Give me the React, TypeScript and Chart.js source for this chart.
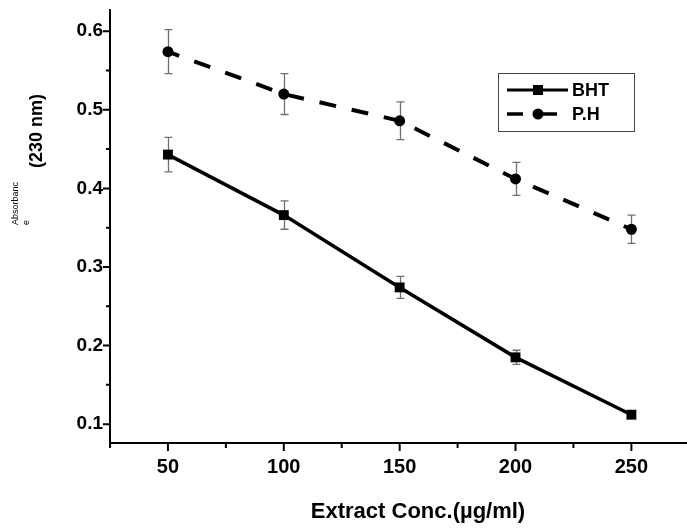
import React, { useEffect, useRef } from 'react';
import { Chart, registerables } from 'chart.js';

Chart.register(...registerables);

// ---- data ----
const concentrations = [50, 100, 150, 200, 250];
const bhtValues = [0.443, 0.366, 0.274, 0.185, 0.112];
const bhtErrors = [0.022, 0.018, 0.014, 0.009, 0.003];
const phValues = [0.574, 0.52, 0.486, 0.412, 0.348];
const phErrors = [0.028, 0.026, 0.024, 0.021, 0.018];
const seriesNames = ['BHT', 'P.H'];

const yMajorTicks = [0.1, 0.2, 0.3, 0.4, 0.5, 0.6];
const yTickLabels = ['0.1', '0.2', '0.3', '0.4', '0.5', '0.6'];
const yMinorTicks = [0.15, 0.25, 0.35, 0.45, 0.55];
const xMajorTicks = [50, 100, 150, 200, 250];
const xTickLabels = ['50', '100', '150', '200', '250'];
const xMinorTicks = [25, 75, 125, 175, 225];

const xTitle = 'Extract Conc.(µg/ml)';
const yTitleSmall = 'Absorbanc';
const yTitleSmall2 = 'e';
const yTitleMain = '(230 nm)';

const FONT = '"Liberation Sans", Arial, sans-serif';

const decorPlugin = {
  id: 'decor',
  beforeDatasetsDraw(chart: any) {
    const ctx = chart.ctx;
    const xs = chart.scales.x;
    const ys = chart.scales.y;
    ctx.save();
    ctx.strokeStyle = '#707070';
    ctx.lineWidth = 1.3;
    const groups = [
      { v: bhtValues, e: bhtErrors },
      { v: phValues, e: phErrors },
    ];
    groups.forEach((g) => {
      concentrations.forEach((c, i) => {
        const px = Math.round(xs.getPixelForValue(c)) + 0.5;
        const top = ys.getPixelForValue(g.v[i] + g.e[i]);
        const bot = ys.getPixelForValue(g.v[i] - g.e[i]);
        ctx.beginPath();
        ctx.moveTo(px, top);
        ctx.lineTo(px, bot);
        ctx.moveTo(px - 4, top);
        ctx.lineTo(px + 4, top);
        ctx.moveTo(px - 4, bot);
        ctx.lineTo(px + 4, bot);
        ctx.stroke();
      });
    });
    ctx.restore();
  },
  afterDraw(chart: any) {
    const ctx = chart.ctx;
    const xs = chart.scales.x;
    const ys = chart.scales.y;
    const area = chart.chartArea;
    ctx.save();
    // ticks
    ctx.strokeStyle = '#000';
    ctx.lineWidth = 2;
    ctx.beginPath();
    yMajorTicks.forEach((v) => {
      const py = ys.getPixelForValue(v);
      ctx.moveTo(area.left - 7, py);
      ctx.lineTo(area.left, py);
    });
    yMinorTicks.forEach((v) => {
      const py = ys.getPixelForValue(v);
      ctx.moveTo(area.left - 4, py);
      ctx.lineTo(area.left, py);
    });
    xMajorTicks.forEach((v) => {
      const px = xs.getPixelForValue(v);
      ctx.moveTo(px, area.bottom);
      ctx.lineTo(px, area.bottom + 8);
    });
    xMinorTicks.forEach((v) => {
      const px = xs.getPixelForValue(v);
      ctx.moveTo(px, area.bottom);
      ctx.lineTo(px, area.bottom + 5);
    });
    ctx.stroke();

    // x title
    ctx.fillStyle = '#000';
    ctx.font = `bold 22px ${FONT}`;
    ctx.textAlign = 'center';
    ctx.textBaseline = 'middle';
    ctx.fillText(xTitle, 418, 512);

    // y title (rotated)
    ctx.save();
    ctx.translate(16, 225);
    ctx.rotate(-Math.PI / 2);
    ctx.font = `9px ${FONT}`;
    ctx.textAlign = 'left';
    ctx.fillText(yTitleSmall, 0, 0);
    ctx.fillText(yTitleSmall2, 0, 11);
    ctx.restore();
    ctx.save();
    ctx.translate(37, 131);
    ctx.rotate(-Math.PI / 2);
    ctx.font = `bold 18px ${FONT}`;
    ctx.textAlign = 'center';
    ctx.fillText(yTitleMain, 0, 0);
    ctx.restore();

    // legend
    const lx = 498, ly = 73, lw = 136, lh = 58;
    ctx.fillStyle = '#fff';
    ctx.fillRect(lx, ly, lw, lh);
    ctx.strokeStyle = '#444';
    ctx.lineWidth = 1;
    ctx.strokeRect(lx + 0.5, ly + 0.5, lw, lh);
    // BHT row
    ctx.strokeStyle = '#000';
    ctx.fillStyle = '#000';
    ctx.lineWidth = 3;
    ctx.beginPath();
    ctx.moveTo(507, 90);
    ctx.lineTo(568, 90);
    ctx.stroke();
    ctx.fillRect(533, 85, 10, 10);
    // P.H row
    ctx.lineWidth = 3.5;
    ctx.beginPath();
    ctx.moveTo(507, 114);
    ctx.lineTo(523, 114);
    ctx.moveTo(543, 114);
    ctx.lineTo(557, 114);
    ctx.stroke();
    ctx.beginPath();
    ctx.arc(538, 114, 5.5, 0, Math.PI * 2);
    ctx.fill();
    ctx.font = `bold 18px ${FONT}`;
    ctx.textAlign = 'left';
    ctx.textBaseline = 'middle';
    ctx.fillText(seriesNames[0], 572, 91);
    ctx.fillText(seriesNames[1], 572, 115);
    ctx.restore();
  },
};

export default function App() {
  const canvasRef = useRef<HTMLCanvasElement | null>(null);

  useEffect(() => {
    if (!canvasRef.current) return;
    const chart = new Chart(canvasRef.current, {
      type: 'line',
      data: {
        datasets: [
          {
            label: seriesNames[0],
            data: concentrations.map((x, i) => ({ x, y: bhtValues[i] })),
            borderColor: '#000',
            backgroundColor: '#000',
            borderWidth: 3.5,
            pointStyle: 'rect',
            pointRadius: 7,
            pointBorderWidth: 0,
            tension: 0,
          },
          {
            label: seriesNames[1],
            data: concentrations.map((x, i) => ({ x, y: phValues[i] })),
            borderColor: '#000',
            backgroundColor: '#000',
            borderWidth: 4,
            borderDash: [17, 16],
            borderDashOffset: 5,
            pointStyle: 'circle',
            pointRadius: 5.5,
            pointBorderWidth: 0,
            tension: 0,
          },
        ],
      },
      options: {
        animation: false,
        responsive: false,
        devicePixelRatio: 1,
        layout: { autoPadding: false, padding: { top: 10, left: 0, right: 0, bottom: 0 } },
        plugins: {
          legend: { display: false },
          tooltip: { enabled: false },
          title: { display: false },
        },
        scales: {
          x: {
            type: 'linear',
            min: 25,
            max: 274,
            grid: { display: false, drawTicks: false },
            border: { display: true, color: '#000', width: 2 },
            afterBuildTicks: (scale: any) => {
              scale.ticks = xMajorTicks.map((v) => ({ value: v }));
            },
            afterFit: (scale: any) => {
              scale.height = 86;
              scale.paddingLeft = 0;
              scale.paddingRight = 0;
            },
            ticks: {
              color: '#000',
              font: { family: FONT, size: 20, weight: 'bold' },
              padding: 12,
              maxRotation: 0,
              callback: (v: any) => {
                const i = xMajorTicks.indexOf(Number(v));
                return i >= 0 ? xTickLabels[i] : '';
              },
            },
          },
          y: {
            type: 'linear',
            min: 0.076,
            max: 0.627,
            grid: { display: false, drawTicks: false },
            border: { display: true, color: '#000', width: 2 },
            afterBuildTicks: (scale: any) => {
              scale.ticks = yMajorTicks.map((v) => ({ value: v }));
            },
            afterFit: (scale: any) => {
              scale.width = 110;
              scale.paddingTop = 0;
              scale.paddingBottom = 0;
            },
            ticks: {
              color: '#000',
              font: { family: FONT, size: 19, weight: 'bold' },
              padding: 7,
              callback: (v: any) => {
                const i = yMajorTicks.findIndex((t) => Math.abs(t - Number(v)) < 1e-9);
                return i >= 0 ? yTickLabels[i] : '';
              },
            },
          },
        },
      },
      plugins: [decorPlugin],
    });
    return () => chart.destroy();
  }, []);

  return (
    <div style={{ position: 'absolute', left: 0, top: 0, width: 687, height: 529, background: '#fff' }}>
      <canvas ref={canvasRef} width={687} height={529} style={{ display: 'block' }} />
    </div>
  );
}
